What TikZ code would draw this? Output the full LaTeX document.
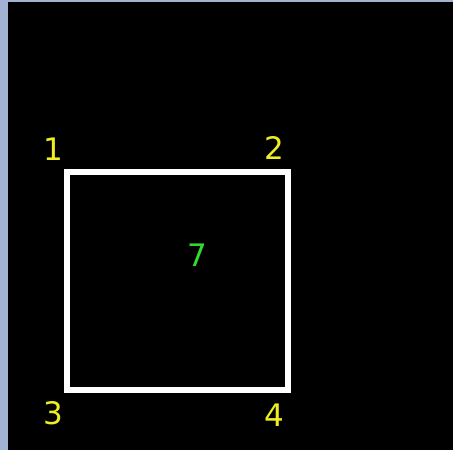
\documentclass[tikz,border=0pt]{standalone}
\usepackage{fontspec}
\setmainfont{DejaVu Sans}
\usepackage{xcolor}
\definecolor{framegray}{HTML}{A3B2D2}
\definecolor{cornerlabel}{HTML}{EEEE22}
\definecolor{idgreen}{HTML}{2EDD2E}
\usetikzlibrary{positioning}

\begin{document}
\begin{tikzpicture}[x=1pt, y=-1pt, font=\fontsize{31}{33}\selectfont]
			\tikzset{cornertxt/.style={text=cornerlabel, inner sep=0pt}}
			% window border and black view
			\fill[framegray] (0,0) rectangle (453,450);
			\fill[black] (8,2) rectangle (453,450);
			\useasboundingbox (0,0) rectangle (453,450);

			\coordinate (c1) at (67,172);
			\coordinate (c2) at (288,172);
			\coordinate (c3) at (67,390);
			\coordinate (c4) at (288,390);
			\draw[white, line width=5.5pt] (c1) -- (c2) -- (c4) -- (c3) -- cycle;

			\node[cornertxt] (l1) at (53,149) {1};
			\node[cornertxt] (l2) at (274,148) {2};
			\node[cornertxt] (l3) at (53,413) {3};
			\node[cornertxt] (l4) at (274,415) {4};
			\node[text=idgreen, inner sep=0pt] (id) at (197,255) {7};
		\end{tikzpicture}
\end{document}
